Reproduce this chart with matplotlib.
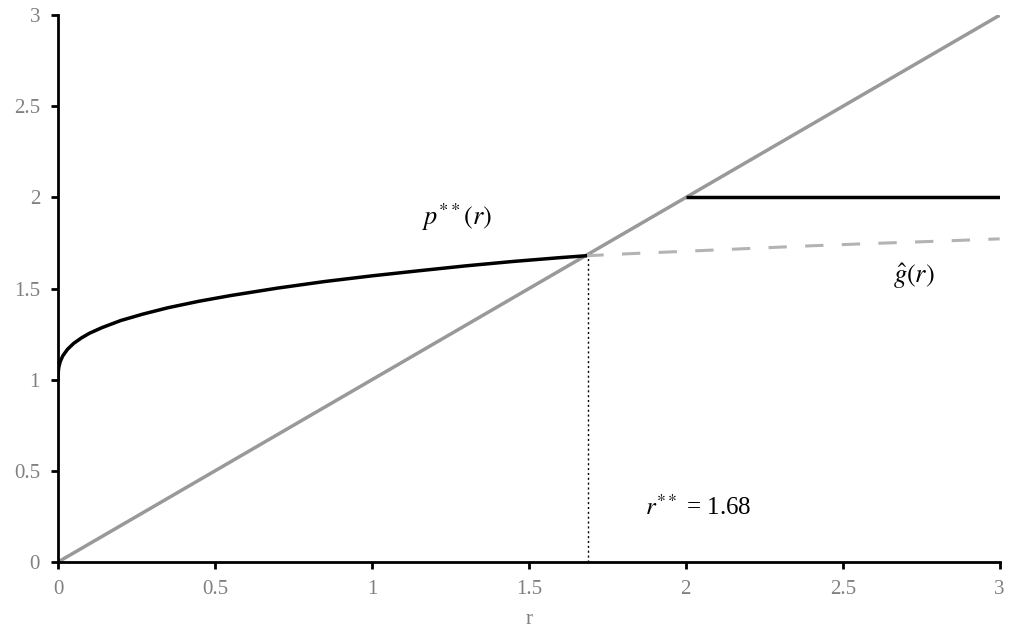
import matplotlib
matplotlib.use("Agg")
import matplotlib.pyplot as plt

plt.rcParams['mathtext.fontset'] = 'stix'

# diagonal r = r
diag_x = [0, 3]
diag_y = [0, 3]

# p**(r) curve
p_x = [0, 0.001, 0.003, 0.007, 0.015, 0.03, 0.05, 0.075, 0.1, 0.14, 0.2, 0.27, 0.35, 0.45,
       0.55, 0.7, 0.85, 1.0, 1.15, 1.3, 1.45, 1.6, 1.68]
p_y = [1.0, 1.051, 1.075, 1.100, 1.131, 1.167, 1.200, 1.230, 1.255, 1.286, 1.325, 1.360, 1.395, 1.431,
       1.462, 1.503, 1.539, 1.570, 1.598, 1.625, 1.649, 1.670, 1.68]

# g-hat(r) dashed continuation
g_x = [1.68, 1.8, 2.0, 2.2, 2.4, 2.6, 2.8, 3.0]
g_y = [1.68, 1.69, 1.705, 1.72, 1.735, 1.748, 1.76, 1.773]

# flat segment at 2
flat_x = [2, 3]
flat_y = [2, 2]

r_star = 1.69

xticks = [0, 0.5, 1, 1.5, 2, 2.5, 3]
yticks = [0, 0.5, 1, 1.5, 2, 2.5, 3]

fig = plt.figure(figsize=(10.19, 6.35), dpi=100)
ax = fig.add_axes([0.057, 0.115, 0.924, 0.861])

ax.plot(diag_x, diag_y, color='#999999', lw=2.5, solid_capstyle='butt')
ax.plot(g_x, g_y, color='#b3b3b3', lw=2.2, dashes=(6, 6))
ax.plot(p_x, p_y, color='black', lw=2.5)
ax.plot(flat_x, flat_y, color='black', lw=2.5, solid_capstyle='butt')
ax.plot([r_star, r_star], [0, 1.68], color='black', lw=1.0, ls=(0, (1.5, 2)))

ax.text(1.16, 1.89, r'$p^{**}(r)$', fontsize=19, va='center', ha='left')
ax.text(2.66, 1.57, r'$\hat{g}(r)$', fontsize=19, va='center', ha='left')
ax.text(1.87, 0.3, r'$r^{**}$ = 1.68', fontsize=18, va='center', ha='left', family='Liberation Serif')

ax.set_xlim(0, 3)
ax.set_ylim(0, 3)
ax.set_xticks(xticks)
ax.set_yticks(yticks)
ax.set_xticklabels([str(t) for t in xticks])
ax.set_yticklabels([str(t) for t in yticks])
for lab in ax.get_xticklabels() + ax.get_yticklabels():
    lab.set_family('Liberation Serif')
    lab.set_fontsize(15)
    lab.set_color('#808080')
ax.set_xlabel('r', family='Liberation Serif', fontsize=15, color='#808080', labelpad=8)

for s in ['top', 'right']:
    ax.spines[s].set_visible(False)
for s in ['left', 'bottom']:
    ax.spines[s].set_linewidth(2)
ax.tick_params(direction='out', length=5, width=2)
ax.tick_params(axis='y', pad=8)
ax.tick_params(axis='x', pad=8)

fig.savefig('out.png', dpi=100)
